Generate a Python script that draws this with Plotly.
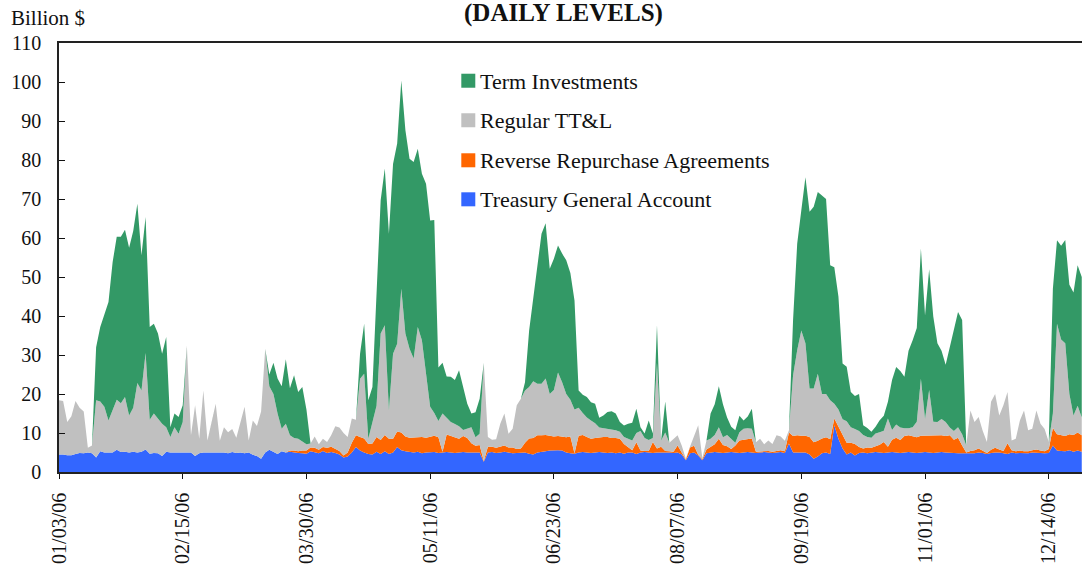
import plotly.graph_objects as go

# ---------------- data (business days of 2006, index 0 = 01/03/06) ----------------
tick_index = [0, 30, 60, 90, 120, 150, 180, 210, 240]
tick_labels = ["01/03/06", "02/15/06", "03/30/06", "05/11/06", "06/23/06",
               "08/07/06", "09/19/06", "11/01/06", "12/14/06"]

treasury_general_account = [
    4.5, 4.5, 4.3, 4.3, 4.6, 4.9, 4.8, 5.0, 4.8, 3.7,
    5.3, 5.0, 5.0, 5.0, 5.7, 5.1, 5.2, 5.0, 5.2, 5.0,
    5.2, 5.8, 4.7, 4.9, 4.8, 4.1, 5.2, 5.0, 5.0, 5.0,
    5.0, 5.0, 5.0, 4.1, 4.8, 5.0, 5.0, 5.0, 5.0, 5.0,
    5.0, 4.8, 5.1, 4.9, 5.0, 4.8, 5.0, 4.4, 4.1, 3.4,
    5.0, 5.7, 5.2, 4.6, 5.3, 5.0, 5.2, 5.0, 4.9, 4.8,
    4.7, 5.3, 5.0, 4.8, 5.4, 4.9, 5.1, 4.9, 4.5, 3.7,
    4.0, 5.0, 6.4, 5.5, 5.0, 4.6, 4.5, 5.2, 4.6, 5.3,
    4.6, 5.0, 6.4, 5.6, 5.3, 5.2, 5.0, 5.2, 4.8, 5.0,
    5.0, 5.1, 4.9, 5.0, 5.1, 5.0, 4.9, 5.0, 5.1, 5.0,
    5.0, 4.9, 5.0, 2.6, 5.0, 5.1, 4.9, 5.0, 5.2, 5.0,
    4.8, 4.9, 5.0, 5.0, 4.7, 4.5, 5.0, 5.1, 5.3, 5.5,
    5.6, 5.6, 5.5, 5.0, 4.8, 4.7, 5.0, 5.1, 5.0, 4.9,
    5.0, 5.1, 5.0, 4.9, 5.0, 4.8, 5.0, 4.7, 5.0, 5.0,
    4.6, 5.0, 5.1, 5.0, 4.9, 5.0, 5.0, 5.1, 5.0, 4.9,
    5.0, 4.5, 3.0, 4.8, 5.0, 4.2, 3.0, 4.8, 5.0, 5.1,
    5.0, 4.9, 5.0, 5.1, 5.0, 4.9, 5.0, 5.1, 5.0, 4.9,
    5.0, 5.1, 5.0, 4.9, 5.0, 5.1, 4.9, 7.3, 5.0, 5.0,
    5.0, 5.0, 4.5, 3.4, 4.0, 4.8, 5.0, 4.6, 12.0, 8.5,
    6.0, 4.5, 5.0, 4.2, 4.9, 5.0, 4.8, 5.0, 5.1, 5.0,
    4.9, 5.0, 5.1, 5.0, 4.9, 5.0, 5.1, 5.0, 4.9, 5.0,
    5.1, 5.0, 4.9, 5.0, 5.1, 5.0, 4.9, 4.8, 4.8, 4.8,
    4.8, 4.8, 4.8, 5.0, 4.9, 4.6, 4.9, 5.0, 5.0, 4.8,
    4.6, 5.0, 4.8, 4.9, 4.8, 4.8, 5.0, 5.0, 4.9, 4.8,
    4.9, 6.8, 5.5, 5.4, 5.3, 5.6, 5.2, 5.5, 5.2,
]

reverse_repurchase_agreements = [0.0] * 56 + [
    0.3, 0.5, 0.4, 0.7, 0.8, 1.0, 1.2, 0.9, 1.0, 1.3, 1.4, 1.0, 0.9, 0.5,
    1.0, 2.5, 3.0, 3.5, 3.6, 2.6, 2.8, 3.8, 3.6, 4.2,
    3.9, 3.5, 4.0, 4.5, 3.8, 3.6, 3.9, 3.7, 4.2, 3.8,
    4.0, 4.2, 4.0, 0.2, 4.5, 4.2, 3.9, 3.5, 4.1, 3.7,
    2.4, 1.8, 1.9, 0.2, 1.5, 1.4, 1.3, 1.5, 1.6, 1.3,
    1.5, 1.0, 1.0, 2.5, 3.9, 4.2, 4.4, 4.3, 4.2, 3.8,
    3.5, 3.6, 3.6, 3.9, 4.3, 0.1, 4.3, 4.4, 4.0, 3.6,
    3.7, 3.8, 4.0, 4.1, 3.7, 3.9, 3.5, 2.5, 1.5, 0.6,
    3.0, 0.5, 0.3, 0.4, 2.8, 1.0, 1.5, 0.3, 0.3, 0.3,
    1.8, 0.4, 0.2, 1.5, 1.7, 0.2, 0.3, 1.0, 1.5, 2.0,
    3.5, 2.0, 1.6, 0.8, 1.8, 3.2, 3.3, 3.4, 3.6, 0.3,
    0.3, 0.3, 0.4, 0.3, 0.4, 0.5, 0.4, 2.8, 4.2, 4.4,
    4.3, 4.3, 4.5, 4.2, 4.0, 3.8, 3.9, 3.8, 1.7, 3.0,
    3.5, 3.0, 2.5, 3.0, 1.5, 1.0, 1.5, 1.2, 1.5, 2.0,
    2.8, 1.5, 3.2, 3.8, 3.3, 4.2, 4.3, 4.1, 4.0, 4.3,
    4.2, 4.4, 4.5, 4.4, 4.3, 4.2, 4.5, 3.5, 4.0, 2.0,
    0.2, 0.6, 0.8, 1.0, 0.6, 0.3, 0.8, 1.2, 0.8, 0.6,
    2.8, 0.6, 0.5, 0.6, 0.5, 0.5, 0.6, 0.8, 0.6, 0.5,
    1.0, 4.5, 4.2, 4.0, 3.9, 4.1, 4.3, 4.6, 4.2,
]

regular_ttl = [
    13.9, 13.7, 8.5, 10.0, 13.6, 11.6, 10.7, 1.2, 2.0, 14.7,
    12.8, 11.7, 8.2, 10.8, 12.8, 12.5, 14.0, 9.5, 11.3, 17.8,
    15.7, 24.7, 8.7, 10.1, 8.9, 8.3, 6.3, 4.0, 6.5, 4.8,
    7.8, 27.5, 4.4, 13.0, 3.7, 15.9, 3.1, 7.8, 12.5, 3.0,
    6.5, 5.4, 5.9, 3.9, 7.5, 11.9, 3.1, 8.8, 7.7, 12.1,
    26.6, 16.3, 14.8, 10.4, 5.8, 7.4, 3.9, 3.2, 3.2, 2.2,
    1.6, 1.0, 2.9, 1.4, 2.1, 1.5, 2.9, 5.8, 6.0, 5.8,
    4.0, 6.2, 4.0, 14.9, 16.6, 1.3, 5.1, 8.0, 27.3, 28.1,
    7.3, 21.8, 22.5, 36.9, 26.4, 22.8, 20.2, 28.3, 24.8, 16.4,
    7.7, 5.8, 4.2, 9.8, 4.2, 3.6, 3.5, 3.2, 1.6, 2.4,
    4.1, 2.2, 2.9, 25.2, 2.5, 1.8, 2.2, 5.9, 8.2, 3.5,
    4.8, 11.2, 12.8, 13.4, 13.2, 14.6, 13.2, 13.2, 14.5, 10.7,
    11.9, 16.3, 13.9, 11.1, 9.4, 11.2, 7.2, 5.6, 5.0, 4.7,
    3.8, 2.5, 2.2, 2.0, 2.2, 2.0, 1.8, 1.8, 2.0, 2.5,
    2.4, 5.0, 3.3, 2.8, 1.0, 22.0, 1.5, 4.7, 2.2, 3.2,
    2.6, 1.9, 0.2, 0.2, 2.3, 7.6, 0.2, 2.3, 2.0, 2.4,
    3.0, 2.0, 2.9, 2.7, 0.7, 2.1, 2.8, 2.7, 2.5, 2.4,
    3.2, 1.7, 2.7, 2.0, 4.0, 3.5, 2.7, 0.6, 15.6, 21.8,
    27.0, 23.7, 12.4, 13.8, 17.2, 11.4, 11.1, 10.0, 3.8, 4.5,
    4.0, 5.5, 4.0, 3.8, 4.1, 3.5, 2.7, 2.6, 3.3, 3.2,
    2.9, 7.2, 2.5, 3.4, 3.2, 2.0, 1.8, 2.4, 4.0, 14.6,
    4.3, 11.6, 3.5, 3.4, 4.2, 3.6, 2.0, 2.2, 2.7, 2.9,
    1.8, 10.4, 7.2, 8.1, 5.0, 2.8, 12.3, 13.8, 8.7, 11.7,
    13.1, 2.5, 3.2, 7.7, 10.5, 5.4, 5.5, 10.0, 6.9, 5.7,
    1.8, 3.7, 28.3, 24.6, 23.8, 10.3, 5.0, 6.9, 4.6,
]

term_investments = [
    0, 0, 0, 0, 0, 0, 0, 0, 0, 13.6,
    19.1, 23.5, 30.4, 38.0, 41.8, 42.7, 42.9, 43.0, 45.3, 46.0,
    34.7, 34.9, 23.8, 23.0, 21.8, 17.9, 23.1, 2.5, 3.5, 4.3,
    4.3, 0, 0, 0, 0, 0, 0, 0, 0, 0,
    0, 0, 0, 0, 0, 0, 0, 0, 0, 0,
    0, 3.0, 8.0, 9.0, 10.9, 16.5, 12.1, 16.1, 12.0, 14.1,
    8.9, 0, 0, 0, 0, 0, 0, 0, 0, 0,
    0, 0, 0, 6.4, 12.8, 9.9, 9.4, 28.0, 34.2, 40.2,
    45.3, 48.7, 51.3, 53.4, 52.1, 48.7, 50.4, 45.7, 42.7, 48.7,
    47.8, 49.5, 13.7, 13.0, 10.7, 11.6, 11.3, 14.4, 11.1, 6.4,
    3.5, 6.4, 9.0, 0, 0, 0, 0, 0, 0, 0,
    0, 0, 0, 2.1, 14.5, 21.4, 29.5, 38.5, 39.8, 32.1,
    33.7, 32.6, 33.0, 34.3, 32.5, 28.0, 4.4, 4.7, 5.2, 4.7,
    5.0, 2.5, 3.3, 4.4, 4.7, 4.3, 2.5, 2.9, 3.9, 4.5,
    6.2, 1.0, 1.2, 5.0, 1.2, 9.6, 0, 8.0, 0, 0,
    0, 0, 0, 0, 0, 0, 0, 0, 6.5, 7.9,
    10.5, 8.5, 4.5, 3.0, 3.2, 4.2, 2.1, 3.0, 5.1, 0,
    0, 0, 0, 0, 0, 0, 0, 0, 14.2, 27.3,
    30.8, 42.6, 45.3, 46.6, 46.6, 50.9, 50.0, 34.6, 35.0, 29.0,
    14.3, 14.0, 9.0, 8.5, 9.5, 2.5, 2.3, 1.5, 1.7, 3.1,
    3.8, 4.3, 12.8, 14.7, 14.5, 13.2, 19.9, 22.3, 24.0, 33.4,
    26.5, 31.0, 27.0, 20.2, 17.5, 14.7, 20.5, 26.5, 29.5, 29.3,
    0, 0, 0, 0, 0, 0, 0, 0, 0, 0,
    0, 0, 0, 0, 0, 0, 0, 0, 0, 0,
    0, 32.0, 21.4, 24.0, 26.5, 28.0, 31.5, 36.0, 36.0,
]

n = len(treasury_general_account)
assert len(reverse_repurchase_agreements) == n, len(reverse_repurchase_agreements)
assert len(regular_ttl) == n, len(regular_ttl)
assert len(term_investments) == n, len(term_investments)
day_index = list(range(n))

series = [
    ("Treasury General Account", treasury_general_account, "#3366FF"),
    ("Reverse Repurchase Agreements", reverse_repurchase_agreements, "#FF6600"),
    ("Regular TT&L", regular_ttl, "#C0C0C0"),
    ("Term Investments", term_investments, "#339966"),
]

SERIF = "Liberation Serif, Times New Roman, serif"

fig = go.Figure()
for name, vals, color in series:
    fig.add_trace(go.Scatter(
        x=day_index, y=vals, name=name, stackgroup="levels", mode="lines",
        line=dict(width=0, color=color), fillcolor=color, showlegend=False,
        hoverinfo="x+y+name",
    ))

# ---- layout geometry (pixels) ----
W, H = 1082, 575
L, R, T, B = 58.5, 0, 43.3, 103
plot_w = W - L - R
plot_h = H - T - B

def px_to_paper_x(px):
    return (px - L) / plot_w

def py_to_paper_y(py):
    return (H - B - py) / plot_h

# manual legend (squares + text), top to bottom
legend_rows = [("Term Investments", "#339966", 81.0),
               ("Regular TT&L", "#C0C0C0", 120.5),
               ("Reverse Repurchase Agreements", "#FF6600", 160.5),
               ("Treasury General Account", "#3366FF", 199.5)]
shapes = []
annotations = []
for label, color, cy in legend_rows:
    shapes.append(dict(type="rect", xref="paper", yref="paper",
                       x0=px_to_paper_x(461), x1=px_to_paper_x(475),
                       y0=py_to_paper_y(cy + 7), y1=py_to_paper_y(cy - 7),
                       fillcolor=color, line=dict(width=0)))
    annotations.append(dict(text=label, xref="paper", yref="paper",
                            x=px_to_paper_x(478), y=py_to_paper_y(cy + 0.5),
                            xanchor="left", yanchor="middle", showarrow=False,
                            font=dict(family=SERIF, size=22, color="#111")))

annotations.append(dict(text="Billion $", xref="paper", yref="paper",
                        x=px_to_paper_x(8), y=py_to_paper_y(18),
                        xanchor="left", yanchor="middle", showarrow=False,
                        font=dict(family=SERIF, size=21, color="#111")))
annotations.append(dict(text="<b>(DAILY LEVELS)</b>", xref="paper", yref="paper",
                        x=px_to_paper_x(563), y=py_to_paper_y(13),
                        xanchor="center", yanchor="middle", showarrow=False,
                        font=dict(family=SERIF, size=25, color="#111")))

fig.update_layout(
    width=W, height=H,
    margin=dict(l=L, r=R, t=T, b=B, pad=0),
    paper_bgcolor="white", plot_bgcolor="white",
    showlegend=False,
    shapes=shapes, annotations=annotations,
    font=dict(family=SERIF, size=20, color="#111"),
)
fig.update_xaxes(
    range=[0, plot_w / 4.126], tickmode="array", tickvals=tick_index, ticktext=tick_labels,
    tickangle=-90, ticks="outside", ticklen=5, tickwidth=1, tickcolor="#111",
    showline=True, linecolor="#222", linewidth=1.5, mirror=True,
    showgrid=False, zeroline=False, ticklabelstandoff=6,
    tickfont=dict(family=SERIF, size=20, color="#111"),
)
fig.update_yaxes(
    range=[0, 110], tickmode="linear", tick0=0, dtick=10,
    ticks="inside", ticklen=6, tickwidth=1, tickcolor="#111",
    showline=True, linecolor="#222", linewidth=1.5,
    showgrid=False, zeroline=False, ticklabelstandoff=12,
    tickfont=dict(family=SERIF, size=20, color="#111"),
)

fig.write_html("out.html", config={"displayModeBar": False},
               post_script="document.body.style.margin='0';")
